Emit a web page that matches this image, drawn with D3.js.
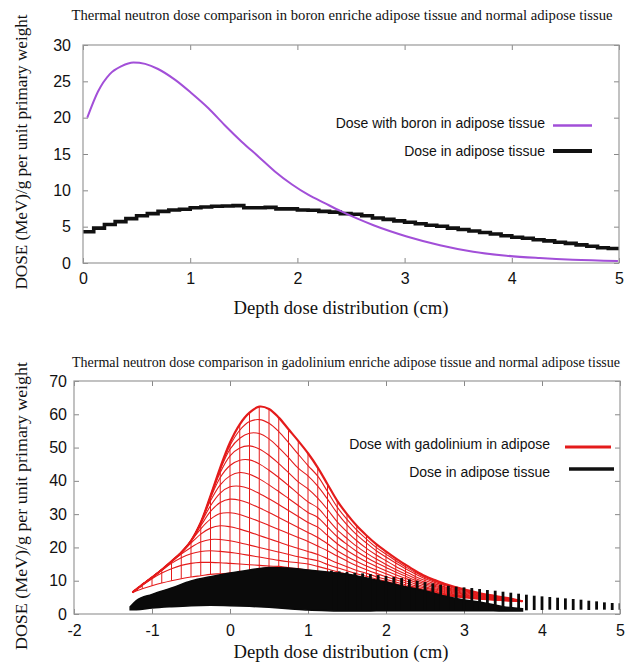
<!DOCTYPE html>
<html>
<head>
<meta charset="utf-8">
<script src="https://cdn.jsdelivr.net/npm/d3@7/dist/d3.min.js"></script>
<style>
  body { margin: 0; background: #fff; }
  svg { display: block; }
  .tick text { font-family: "Liberation Sans", Arial, sans-serif; font-size: 16px; fill: #111; }
  .tick line { stroke: #888; }
  .serif { font-family: "Liberation Serif", "Times New Roman", serif; fill: #111; }
  .legend { font-family: "Liberation Sans", Arial, sans-serif; font-size: 14px; fill: #111; }
</style>
</head>
<body>
<div id="chart"></div>
<script>
// ---- top chart: boron ----
const boronX = [0.04, 0.14, 0.25, 0.36, 0.47, 0.58, 0.70, 0.86, 1.01, 1.17, 1.32, 1.48, 1.64, 1.79, 1.95, 2.10, 2.26, 2.41, 2.56, 2.71, 2.86, 3.02, 3.33, 3.64, 3.95, 4.26, 4.57, 4.99]
const boronDose = [20.0, 23.6, 26.0, 27.1, 27.6, 27.4, 26.7, 25.2, 23.4, 21.3, 19.0, 16.7, 14.6, 12.6, 10.8, 9.4, 8.2, 7.1, 6.1, 5.2, 4.4, 3.65, 2.45, 1.55, 1.0, 0.68, 0.45, 0.28]

const tissueX = [0, 0.1, 0.2, 0.3, 0.4, 0.5, 0.6, 0.7, 0.8, 0.9, 1.0, 1.1, 1.2, 1.3, 1.4, 1.5, 1.6, 1.7, 1.8, 1.9,
  2.0, 2.1, 2.2, 2.3, 2.4, 2.5, 2.6, 2.7, 2.8, 2.9, 3.0, 3.1, 3.2, 3.3, 3.4, 3.5, 3.6, 3.7, 3.8, 3.9,
  4.0, 4.1, 4.2, 4.3, 4.4, 4.5, 4.6, 4.7, 4.8, 4.9, 5.0]
const tissueDose = [4.3, 4.8, 5.3, 5.7, 6.1, 6.5, 6.8, 7.1, 7.3, 7.4, 7.6, 7.7, 7.8, 7.85, 7.9, 7.6, 7.6, 7.65, 7.45, 7.45,
  7.3, 7.25, 7.1, 7.0, 6.8, 6.7, 6.5, 6.2, 6.0, 5.8, 5.6, 5.4, 5.2, 5.05, 4.8, 4.6, 4.4, 4.2, 4.0, 3.75,
  3.55, 3.4, 3.2, 3.05, 2.85, 2.7, 2.5, 2.3, 2.1, 2.0, 1.9]

const topXTicks = [0, 1, 2, 3, 4, 5]
const topYTicks = [0, 5, 10, 15, 20, 25, 30]

// ---- bottom chart: gadolinium mesh (rows share the column depths) ----
const gdX = [-1.25, -1.125, -1.0, -0.875, -0.75, -0.625, -0.5, -0.375, -0.25, -0.125, 0, 0.125, 0.25, 0.375, 0.5, 0.625, 0.75, 0.875, 1.0, 1.125,
  1.25, 1.375, 1.5, 1.625, 1.75, 1.875, 2.0, 2.125, 2.25, 2.375, 2.5, 2.625, 2.75, 2.875, 3.0, 3.125, 3.25, 3.375, 3.5, 3.625, 3.75]
const gdRow0 = [6.5, 7.6, 8.5, 9.3, 10.0, 10.6, 11.1, 11.5, 11.9, 12.1, 12.3, 12.4, 12.5, 12.5, 12.5, 12.4, 12.2, 12.0, 11.7, 11.4,
  11.0, 10.6, 10.2, 9.8, 9.3, 8.8, 8.3, 7.8, 7.3, 6.8, 6.4, 6.0, 5.6, 5.2, 4.9, 4.6, 4.4, 4.2, 4.0, 3.9, 3.8]
const gdRow1 = [6.5, 8.6, 10.6, 12.3, 13.6, 14.6, 15.2, 15.5, 15.5, 15.4, 15.2, 15.0, 14.8, 14.6, 14.4, 14.3, 13.9, 13.6, 13.2, 12.7,
  12.1, 11.5, 11.0, 10.5, 9.9, 9.3, 8.7, 8.2, 7.6, 7.05, 6.6, 6.2, 5.7, 5.3, 5.0, 4.7, 4.45, 4.25, 4.05, 3.9, 3.8]
const gdRow2 = [6.5, 8.7, 10.9, 13.1, 15.2, 16.9, 18.1, 18.8, 19.0, 18.8, 18.5, 18.1, 17.6, 17.1, 16.6, 16.1, 15.7, 15.4, 15.0, 14.3,
  13.5, 12.7, 12.0, 11.3, 10.6, 9.9, 9.25, 8.6, 8.0, 7.4, 6.85, 6.4, 5.9, 5.5, 5.1, 4.8, 4.55, 4.3, 4.1, 3.95, 3.8]
const gdRow3 = [6.5, 8.8, 11.0, 13.3, 15.7, 18.0, 20.0, 21.6, 22.4, 22.4, 22.0, 21.4, 20.7, 20.0, 19.3, 18.6, 17.9, 17.2, 16.6, 16.0,
  14.9, 13.9, 13.0, 12.1, 11.3, 10.5, 9.8, 9.05, 8.35, 7.7, 7.1, 6.6, 6.1, 5.6, 5.25, 4.9, 4.6, 4.4, 4.15, 3.95, 3.8]
const gdRow4 = [6.5, 8.8, 11.0, 13.3, 15.8, 18.4, 21.3, 24.0, 25.8, 26.5, 26.2, 25.5, 24.6, 23.6, 22.6, 21.6, 20.6, 19.7, 18.8, 17.9,
  16.6, 15.3, 14.2, 13.1, 12.2, 11.2, 10.4, 9.6, 8.8, 8.0, 7.4, 6.85, 6.3, 5.8, 5.4, 5.0, 4.7, 4.45, 4.2, 4.0, 3.8]
const gdRow5 = [6.5, 8.8, 11.0, 13.3, 15.8, 18.5, 21.9, 25.6, 28.5, 30.2, 30.4, 29.9, 28.9, 27.8, 26.6, 25.4, 24.2, 23.0, 21.8, 20.4,
  19.0, 17.4, 15.9, 14.5, 13.3, 12.2, 11.2, 10.3, 9.4, 8.5, 7.8, 7.2, 6.6, 6.0, 5.6, 5.2, 4.85, 4.55, 4.3, 4.05, 3.8]
const gdRow6 = [6.5, 8.8, 11.0, 13.3, 15.8, 18.5, 22.0, 26.5, 30.8, 33.5, 34.5, 34.2, 33.2, 31.9, 30.5, 29.0, 27.5, 26.0, 24.5, 23.0,
  21.1, 19.0, 17.3, 15.8, 14.4, 13.2, 12.1, 11.0, 10.0, 9.0, 8.2, 7.5, 6.9, 6.3, 5.8, 5.35, 5.0, 4.65, 4.35, 4.1, 3.8]
const gdRow7 = [6.5, 8.8, 11.0, 13.3, 15.8, 18.5, 22.0, 27.2, 32.5, 36.3, 38.2, 38.4, 37.6, 36.2, 34.6, 32.9, 31.1, 29.3, 27.5, 26.1,
  23.6, 21.1, 19.1, 17.3, 15.7, 14.3, 13.0, 11.8, 10.7, 9.6, 8.65, 7.9, 7.2, 6.55, 6.0, 5.55, 5.1, 4.8, 4.45, 4.15, 3.8]
const gdRow8 = [6.5, 8.8, 11.0, 13.3, 15.8, 18.5, 22.0, 27.5, 34.0, 38.8, 41.5, 42.5, 42.0, 40.6, 38.8, 36.8, 34.7, 32.6, 30.5, 29.0,
  26.1, 23.2, 20.9, 18.8, 17.0, 15.4, 14.0, 12.6, 11.35, 10.15, 9.1, 8.3, 7.5, 6.8, 6.25, 5.75, 5.25, 4.9, 4.55, 4.2, 3.8]
const gdRow9 = [6.5, 8.8, 11.0, 13.3, 15.8, 18.5, 22.0, 27.5, 34.8, 41.0, 44.6, 46.2, 46.3, 45.1, 43.2, 41.0, 38.6, 36.1, 33.7, 31.9,
  28.6, 25.3, 22.7, 20.3, 18.3, 16.5, 14.9, 13.4, 12.0, 10.7, 9.55, 8.65, 7.8, 7.1, 6.5, 5.9, 5.4, 5.0, 4.65, 4.25, 3.8]
const gdRow10 = [6.5, 8.8, 11.0, 13.3, 15.8, 18.5, 22.0, 27.5, 35.2, 42.5, 47.5, 49.9, 50.5, 49.6, 47.7, 45.2, 42.5, 39.7, 37.6, 34.8,
  31.4, 27.7, 24.7, 22.0, 19.7, 17.7, 16.0, 14.3, 12.8, 11.3, 10.05, 9.05, 8.15, 7.4, 6.75, 6.15, 5.55, 5.15, 4.75, 4.35, 3.8]
const gdRow11 = [6.5, 8.8, 11.0, 13.3, 15.8, 18.5, 22.0, 27.5, 35.4, 43.3, 49.5, 52.8, 54.3, 54.2, 52.6, 50.0, 47.0, 43.8, 41.5, 38.4,
  34.5, 30.3, 26.8, 23.8, 21.3, 19.0, 17.1, 15.3, 13.6, 12.0, 10.6, 9.5, 8.55, 7.7, 7.0, 6.35, 5.75, 5.3, 4.85, 4.4, 3.8]
const gdRow12 = [6.5, 8.8, 11.0, 13.3, 15.8, 18.5, 22.0, 27.5, 35.5, 43.7, 50.6, 55.2, 57.8, 58.4, 57.3, 54.8, 51.5, 48.0, 44.6, 41.4,
  36.8, 32.1, 28.4, 25.2, 22.5, 20.0, 18.0, 16.0, 14.2, 12.5, 11.0, 9.9, 8.8, 8.0, 7.2, 6.55, 5.9, 5.4, 4.9, 4.45, 3.8]
const gdRow13 = [6.5, 8.8, 11.0, 13.3, 15.8, 18.5, 22.0, 27.5, 35.5, 44.0, 51.5, 57.0, 60.5, 62.3, 61.6, 59.0, 55.5, 52.0, 48.3, 44.0,
  39.0, 34.0, 30.0, 26.5, 23.6, 21.0, 18.8, 16.7, 14.8, 13.0, 11.4, 10.2, 9.1, 8.2, 7.4, 6.7, 6.0, 5.5, 5.0, 4.5, 3.8]

// black band (dose in adipose tissue) and its bars
const bandX = [-1.28, -1.2, -1.0, -0.75, -0.5, -0.25, 0, 0.25, 0.5, 0.75, 1.0, 1.25, 1.5, 1.75, 2.0, 2.25, 2.5, 2.75, 3.0, 3.25, 3.5, 3.75]
const bandTop = [2.2, 4.0, 5.9, 7.8, 9.9, 11.2, 12.3, 13.2, 14.0, 13.8, 13.2, 12.6, 12.0, 10.8, 9.6, 8.2, 7.0, 5.4, 4.2, 3.4, 2.2, 1.6]
const bandLow = [1.3, 1.3, 1.8, 2.2, 2.5, 2.6, 2.5, 2.3, 2.0, 1.6, 1.2, 1.0, 0.9, 0.9, 1.0, 1.0, 1.0, 1.0, 1.0, 1.0, 0.9, 0.9]
const barX = [1.3, 1.4, 1.5, 1.6, 1.7, 1.8, 1.9, 2.0, 2.1, 2.2, 2.3, 2.4, 2.5, 2.6, 2.7, 2.8, 2.9, 3.0, 3.1, 3.2,
  3.3, 3.4, 3.5, 3.6, 3.7, 3.8, 3.9, 4.0, 4.1, 4.2, 4.3, 4.4, 4.5, 4.6, 4.7, 4.8, 4.9, 5.0]
const barTop = [13.0, 12.8, 12.6, 12.4, 12.2, 12.0, 11.7, 11.4, 11.1, 10.8, 10.4, 10.0, 9.6, 9.2, 8.8, 8.5, 8.2, 8.0, 7.8, 7.5,
  7.2, 7.0, 6.7, 6.4, 6.1, 5.8, 5.5, 5.3, 5.1, 4.9, 4.7, 4.5, 4.3, 4.0, 3.8, 3.5, 3.3, 3.2]
const barLow = [1.2, 1.2, 1.2, 1.2, 1.2, 1.2, 1.2, 1.2, 1.2, 1.2, 1.2, 1.2, 1.2, 1.2, 1.2, 1.2, 1.2, 1.2, 1.2, 1.2,
  1.2, 1.1, 1.1, 1.0, 1.0, 1.1, 1.2, 1.2, 1.3, 1.2, 1.3, 1.2, 1.3, 1.2, 1.3, 1.3, 1.2, 1.3]

const botXTicks = [-2, -1, 0, 1, 2, 3, 4, 5]
const botYTicks = [0, 10, 20, 30, 40, 50, 60, 70]

const svg = d3.select("#chart").append("svg").attr("width", 638).attr("height", 668)

// Frame with inward ticks on all four sides (gnuplot style)
function makePanel(box, xDomain, yDomain, xTicks, yTicks, pad) {
  const x = d3.scaleLinear().domain(xDomain).range([box.left, box.right])
  const y = d3.scaleLinear().domain(yDomain).range([box.bottom, box.top])
  const g = svg.append("g")
  const fmt = (d) => String(d)

  g.append("g").attr("transform", `translate(0,${box.bottom})`)
    .call(d3.axisBottom(x).tickValues(xTicks).tickSize(-5).tickPadding(pad.x).tickFormat(fmt))
  g.append("g").attr("transform", `translate(0,${box.top})`)
    .call(d3.axisTop(x).tickValues(xTicks).tickSize(-5).tickFormat(""))
  g.append("g").attr("transform", `translate(${box.left},0)`)
    .call(d3.axisLeft(y).tickValues(yTicks).tickSize(-5).tickPadding(pad.y).tickFormat(fmt))
  g.append("g").attr("transform", `translate(${box.right},0)`)
    .call(d3.axisRight(y).tickValues(yTicks).tickSize(-5).tickFormat(""))
  g.selectAll(".domain").remove()

  const clipId = "clip" + Math.round(box.top)
  svg.append("clipPath").attr("id", clipId).append("rect")
    .attr("x", box.left).attr("y", box.top)
    .attr("width", box.right - box.left).attr("height", box.bottom - box.top)
  const plot = svg.append("g").attr("clip-path", `url(#${clipId})`)
  return { x, y, plot, box }
}

function drawFrame(box) {
  svg.append("rect")
    .attr("x", box.left).attr("y", box.top)
    .attr("width", box.right - box.left).attr("height", box.bottom - box.top)
    .attr("fill", "none").attr("stroke", "#999").attr("stroke-width", 1.2)
}

function serifText(txt, x, y, size, len, rotate) {
  const t = svg.append("text").attr("class", "serif")
    .attr("text-anchor", "middle")
    .style("font-size", size + "px")
    .attr("textLength", len).attr("lengthAdjust", "spacingAndGlyphs")
    .text(txt)
  if (rotate) t.attr("transform", `translate(${x},${y}) rotate(-90)`)
  else t.attr("x", x).attr("y", y)
}

function legendItem(label, textRight, ty, x1, x2, ly, color, width) {
  svg.append("text").attr("class", "legend")
    .attr("x", textRight).attr("y", ty).attr("dy", "0.35em")
    .attr("text-anchor", "end").text(label)
  svg.append("line").attr("x1", x1).attr("x2", x2).attr("y1", ly).attr("y2", ly)
    .attr("stroke", color).attr("stroke-width", width)
}

// ================= TOP CHART =================
const top1 = makePanel({ left: 83, right: 619, top: 45, bottom: 263 }, [0, 5], [0, 30], topXTicks, topYTicks, { x: 10, y: 12 })

top1.plot.append("path")
  .datum(d3.zip(tissueX, tissueDose))
  .attr("fill", "none").attr("stroke", "#111").attr("stroke-width", 3.6)
  .attr("d", d3.line().x((d) => top1.x(d[0])).y((d) => top1.y(d[1])).curve(d3.curveStepAfter))

top1.plot.append("path")
  .datum(d3.zip(boronX, boronDose))
  .attr("fill", "none").attr("stroke", "#a24fd8").attr("stroke-width", 2)
  .attr("d", d3.line().x((d) => top1.x(d[0])).y((d) => top1.y(d[1])).curve(d3.curveMonotoneX))

drawFrame(top1.box)

serifText("Thermal neutron dose comparison in boron enriche adipose tissue and normal adipose tissue", 342, 20, 14, 541)
serifText("DOSE (MeV)/g per unit primary weight", 27, 152, 17, 275, true)
serifText("Depth dose distribution (cm)", 341, 314, 19, 215)

legendItem("Dose with boron in adipose tissue", 545, 123, 553, 592, 125.5, "#a24fd8", 2.5)
legendItem("Dose in adipose tissue", 545, 151, 553, 592, 151, "#111", 4)

// ================= BOTTOM CHART =================
const bot = makePanel({ left: 74, right: 620, top: 381, bottom: 614 }, [-2, 5], [0, 70], botXTicks, botYTicks, { x: 11, y: 7 })

const gdRows = [gdRow0, gdRow1, gdRow2, gdRow3, gdRow4, gdRow5, gdRow6, gdRow7, gdRow8, gdRow9, gdRow10, gdRow11, gdRow12, gdRow13]
const red = "#e41b1b"
const rowLine = d3.line().x((d) => bot.x(d[0])).y((d) => bot.y(d[1])).curve(d3.curveCatmullRom)

const mesh = bot.plot.append("g").attr("fill", "none").attr("stroke", red)

// columns: join the same depth across rows
mesh.selectAll(".col")
  .data(gdX)
  .join("path")
  .attr("class", "col")
  .attr("stroke-width", 1)
  .attr("d", (xv, j) => d3.line().x(bot.x(xv)).y((r) => bot.y(r[j]))(gdRows))

mesh.selectAll(".row")
  .data(gdRows)
  .join("path")
  .attr("class", "row")
  .attr("stroke-width", (d, i) => (i === gdRows.length - 1 ? 2.2 : 1.1))
  .attr("d", (r) => rowLine(d3.zip(gdX, r)))

// black band
const bandData = bandX.map((v, i) => ({ x: v, lo: bandLow[i], hi: bandTop[i] }))
bot.plot.append("path")
  .datum(bandData)
  .attr("fill", "#0a0a0a").attr("stroke", "#0a0a0a").attr("stroke-width", 1.5)
  .attr("d", d3.area().x((d) => bot.x(d.x)).y0((d) => bot.y(d.lo)).y1((d) => bot.y(d.hi)).curve(d3.curveMonotoneX))

bot.plot.selectAll(".bar")
  .data(barX)
  .join("line")
  .attr("class", "bar")
  .attr("x1", (d) => bot.x(d)).attr("x2", (d) => bot.x(d))
  .attr("y1", (d, i) => bot.y(barLow[i])).attr("y2", (d, i) => bot.y(barTop[i]))
  .attr("stroke", "#0a0a0a").attr("stroke-width", 2.8)

drawFrame(bot.box)

serifText("Thermal neutron dose comparison in gadolinium enriche adipose tissue and normal adipose tissue", 346, 367, 14, 548)
serifText("DOSE (MeV)/g per unit primary weight", 27, 506, 17, 288, true)
serifText("Depth dose distribution (cm)", 341, 658, 19, 215)

legendItem("Dose with gadolinium in adipose", 550, 444, 565, 611, 447, red, 2.8)
legendItem("Dose in adipose tissue", 550, 472, 569, 614, 469, "#111", 3.5)
</script>
</body>
</html>
